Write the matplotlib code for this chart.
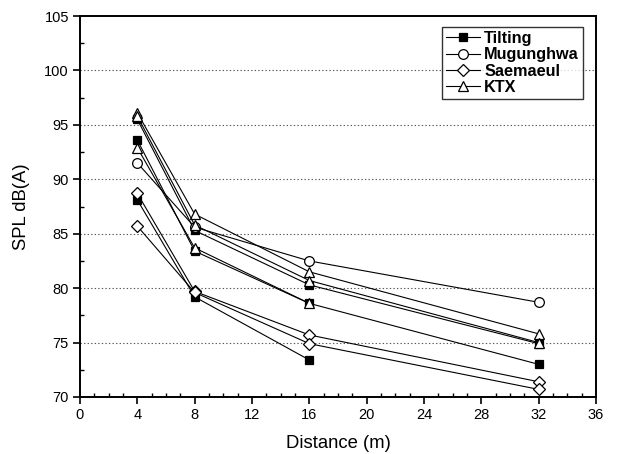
import numpy as np
import matplotlib
matplotlib.use("Agg")
import matplotlib.pyplot as plt
from matplotlib.ticker import MultipleLocator

plt.rcParams['font.family'] = ['Liberation Sans', 'DejaVu Sans']

distance = [4, 8, 16, 32]

tilting_runs = [
    [95.5, 85.3, 80.3, 74.9],
    [93.6, 83.4, 78.6, 73.0],
    [88.1, 79.2, 73.4, np.nan],
]
mugunghwa_runs = [
    [91.5, 85.6, 82.5, 78.7],
]
saemaeul_runs = [
    [88.7, 79.7, 75.7, 71.4],
    [85.7, 79.6, 74.9, 70.7],
]
ktx_runs = [
    [96.1, 86.8, 81.5, 75.8],
    [95.8, 85.8, 80.7, 75.0],
    [92.9, 83.7, 78.6, np.nan],
]

series_names = ["Tilting", "Mugunghwa", "Saemaeul", "KTX"]
series_runs = [tilting_runs, mugunghwa_runs, saemaeul_runs, ktx_runs]
styles = [
    dict(marker='s', mfc='black', mec='black', ms=5.5),
    dict(marker='o', mfc='white', mec='black', ms=7),
    dict(marker='D', mfc='white', mec='black', ms=6.5),
    dict(marker='^', mfc='white', mec='black', ms=7.5),
]

fig = plt.figure(figsize=(6.19, 4.54), dpi=100)
ax = fig.add_axes([80/619, 1-397/454, (596-80)/619, (397-16)/454])

for name, runs, st in zip(series_names, series_runs, styles):
    for i, run in enumerate(runs):
        ax.plot(distance, run, color='black', lw=0.8, mew=0.9,
                label=name if i == 0 else None, zorder=3, **st)

ax.set_xlim(0, 36)
ax.set_ylim(70, 105)
ax.xaxis.set_major_locator(MultipleLocator(4))
ax.xaxis.set_minor_locator(MultipleLocator(1))
ax.yaxis.set_major_locator(MultipleLocator(5))
ax.yaxis.set_minor_locator(MultipleLocator(2.5))
ax.tick_params(which='major', direction='out', length=5, width=1.2, labelsize=10.5, pad=3)
ax.tick_params(which='minor', direction='in', length=3, width=1.0)
for sp in ax.spines.values():
    sp.set_linewidth(1.4)

for yv in [75, 80, 85, 90, 95, 100]:
    ax.axhline(yv, color='#555555', lw=0.8, ls=(0, (1.2, 2)), zorder=1)

ax.set_xlabel("Distance (m)", fontsize=13.3)
ax.set_ylabel("SPL dB(A)", fontsize=13.3)
ax.xaxis.set_label_coords(0.5, -(444 - 397) / 381, transform=ax.transAxes)
ax.yaxis.set_label_coords(-(80 - 22) / 516, 0.5, transform=ax.transAxes)
ax.xaxis.label.set_va('center')
ax.yaxis.label.set_va('center')

leg = ax.legend(loc='upper right', bbox_to_anchor=(583/619, 1-27/454),
                bbox_transform=fig.transFigure, frameon=True, fancybox=False,
                edgecolor='black', prop={'weight': 'bold', 'size': 11.7},
                handlelength=2.1, handletextpad=0.25, borderpad=0.25,
                labelspacing=0.08, borderaxespad=0)
leg.get_frame().set_linewidth(1.0)

fig.savefig("out.png", dpi=100)
